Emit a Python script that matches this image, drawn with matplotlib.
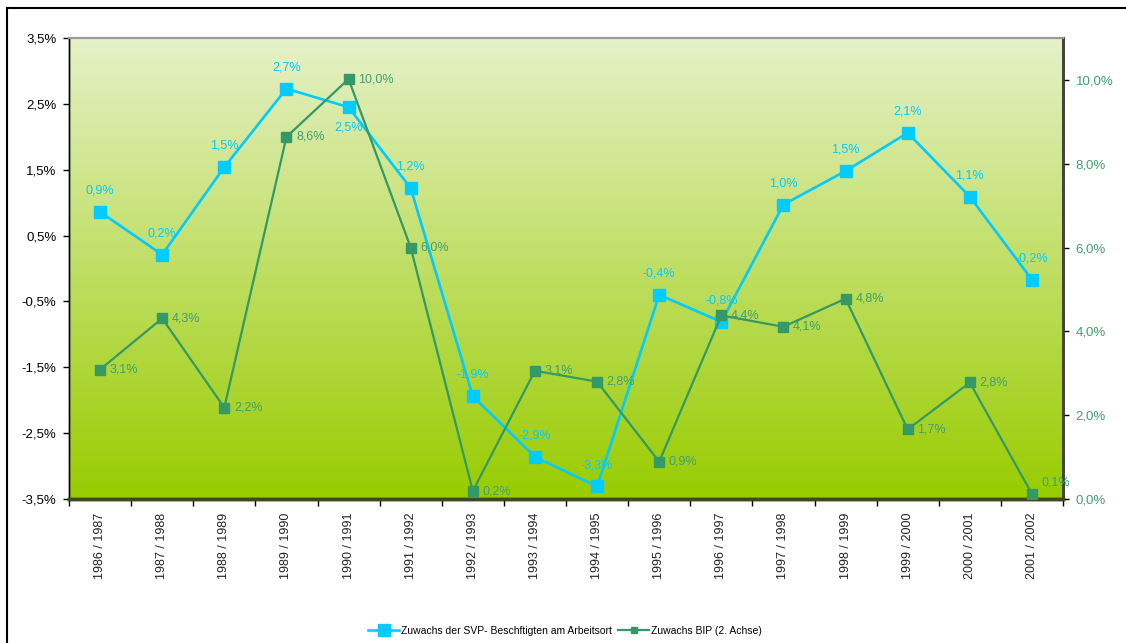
import numpy as np
import matplotlib
matplotlib.use("Agg")
import matplotlib.pyplot as plt
from matplotlib.colors import LinearSegmentedColormap
from matplotlib.lines import Line2D

plt.rcParams['font.family'] = ['Liberation Sans', 'DejaVu Sans']

periods = ["1986 / 1987", "1987 / 1988", "1988 / 1989", "1989 / 1990", "1990 / 1991",
           "1991 / 1992", "1992 / 1993", "1993 / 1994", "1994 / 1995", "1995 / 1996",
           "1996 / 1997", "1997 / 1998", "1998 / 1999", "1999 / 2000", "2000 / 2001",
           "2001 / 2002"]
svp_growth = [0.86, 0.21, 1.54, 2.73, 2.45, 1.22, -1.94, -2.86, -3.31, -0.40,
              -0.81, 0.97, 1.48, 2.06, 1.09, -0.17]
gdp_growth = [3.09, 4.31, 2.18, 8.64, 10.02, 6.00, 0.19, 3.06, 2.80, 0.89,
              4.38, 4.11, 4.78, 1.66, 2.78, 0.12]

left_ticks = [3.5, 2.5, 1.5, 0.5, -0.5, -1.5, -2.5, -3.5]
right_ticks = [0, 2, 4, 6, 8, 10]

BLUE = "#00CCFF"
GREEN = "#339966"
GREEN_TXT = "#3FA06E"

def pct(v):
    return f"{v:.1f}%".replace(".", ",")

fig = plt.figure(figsize=(11.26, 6.43), dpi=100)
ax = fig.add_axes([69/1126, 1 - 499/643, (1063 - 69)/1126, (499 - 38)/643])
ax2 = ax.twinx()

n = len(periods)
x = np.arange(n)
ax.set_xlim(-0.5, n - 0.5)
ax.set_ylim(-3.5, 3.5)
ax2.set_ylim(0, 11)

# vertical gradient background of the plot area
cmap = LinearSegmentedColormap.from_list("bg", ["#99CC00", "#E6F1C8"])
grad = np.linspace(0, 1, 256).reshape(-1, 1)
ax.imshow(grad, cmap=cmap, origin="lower", aspect="auto",
          extent=(-0.5, n - 0.5, -3.5, 3.5), zorder=0)

ax.plot(x, svp_growth, color=BLUE, lw=1.9, marker="s", ms=8.5,
        mec=BLUE, mfc=BLUE, zorder=3)
ax2.plot(x, gdp_growth, color=GREEN, lw=1.6, marker="s", ms=6.5,
         mec=GREEN, mfc=GREEN, zorder=3)

# value labels
below = {4}
for i, v in enumerate(svp_growth):
    if i in below:
        ax.annotate(pct(v), (i, v), xytext=(0, -10), textcoords="offset points",
                    ha="center", va="top", color=BLUE, fontsize=9)
    else:
        ax.annotate(pct(v), (i, v), xytext=(0, 11), textcoords="offset points",
                    ha="center", va="bottom", color=BLUE, fontsize=9)
for i, v in enumerate(gdp_growth):
    dy = 8 if i == n - 1 else 0
    ax2.annotate(pct(v), (i, v), xytext=(7, dy), textcoords="offset points",
                 ha="left", va="center", color=GREEN_TXT, fontsize=9)

# axes styling
ax.set_yticks(left_ticks)
ax.set_yticklabels([pct(t) for t in left_ticks], fontsize=9.5, color="black")
ax2.set_yticks(right_ticks)
ax2.set_yticklabels([pct(t) for t in right_ticks], fontsize=9.5, color=GREEN_TXT)

ax.set_xticks(np.arange(n + 1) - 0.5)
ax.set_xticklabels([])
ax.set_xticks(x, minor=True)
ax.set_xticklabels(periods, minor=True, rotation=90, fontsize=9, color="#222222")
ax.tick_params(axis="x", which="minor", length=0, pad=10)
ax.tick_params(axis="x", which="major", length=5, width=1, color="black", direction="out")
ax.tick_params(axis="y", length=4, width=1, color="black", direction="out", pad=5)
ax2.tick_params(axis="y", length=4, width=1, color="black", direction="out", pad=5)

for a in (ax, ax2):
    a.spines["top"].set_color("#999999")
    a.spines["top"].set_linewidth(1.5)
    a.spines["left"].set_color("black")
    a.spines["left"].set_linewidth(1.0)
    a.spines["right"].set_color("#444444")
    a.spines["right"].set_linewidth(2.0)
    a.spines["bottom"].set_color("#3E4A1E")
    a.spines["bottom"].set_linewidth(2.5)
ax2.patch.set_visible(False)

handles = [
    Line2D([], [], color=BLUE, lw=1.9, marker="s", ms=8.5, mfc=BLUE, mec=BLUE),
    Line2D([], [], color=GREEN, lw=1.6, marker="s", ms=5, mfc=GREEN, mec=GREEN),
]
fig.legend(handles, ["Zuwachs der SVP- Beschftigten am Arbeitsort", "Zuwachs BIP (2. Achse)"],
           loc="center", bbox_to_anchor=(565/1126, 1 - 631/643), ncol=2, frameon=False,
           fontsize=7.5, handlelength=3.0, handletextpad=0.15, columnspacing=0.6)

# chart border (left and top edges)
fig.add_artist(Line2D([7/1126, 7/1126], [0, 1 - 8/643], transform=fig.transFigure,
                      color="black", lw=1.5))
fig.add_artist(Line2D([7/1126, 1], [1 - 8/643, 1 - 8/643], transform=fig.transFigure,
                      color="black", lw=1.5))

fig.savefig("out.png", dpi=100)
